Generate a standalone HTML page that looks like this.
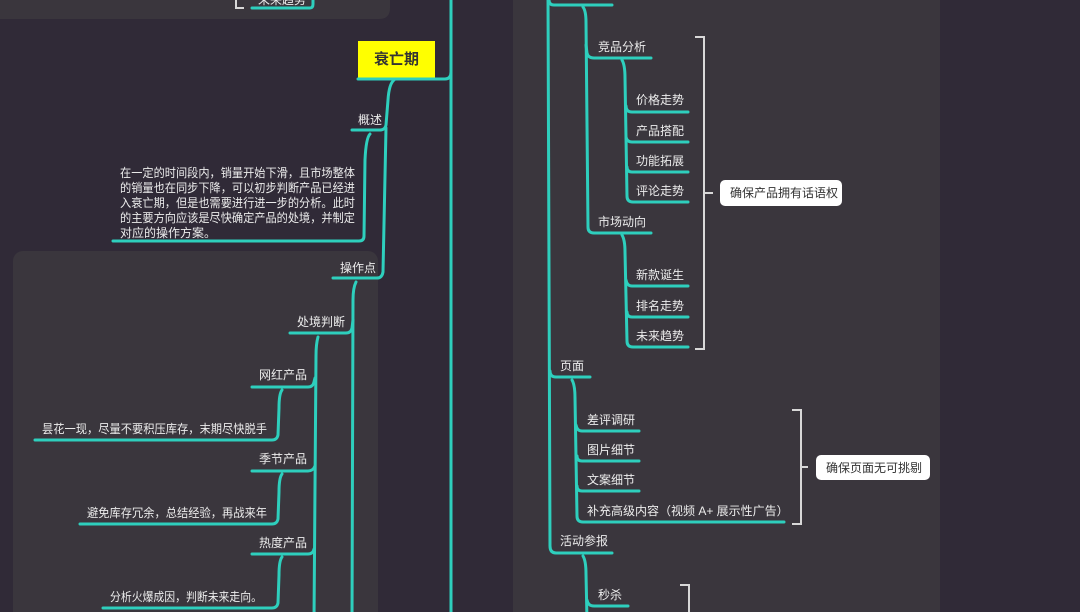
<!DOCTYPE html>
<html><head><meta charset="utf-8"><style>
html,body{margin:0;padding:0;width:1080px;height:612px;overflow:hidden;background:#302a37}
svg{display:block}
text{font-family:"Liberation Sans","Noto Sans CJK SC",sans-serif;font-size:12px;fill:#ececec}
.l{fill:none;stroke:#2ecfbd;stroke-width:3;stroke-linecap:round}
.b{fill:none;stroke:#d8d8d8;stroke-width:2}
</style></head><body>
<svg width="1080" height="612" viewBox="0 0 1080 612">
<rect x="0" y="0" width="1080" height="612" fill="#302a37"/>
<path d="M0 -10 H390 V8 Q390 19 379 19 H0 Z" fill="#3a363d"/>
<rect x="13" y="251" width="365" height="380" rx="10" fill="#3a363d"/>
<rect x="513" y="-10" width="427" height="640" fill="#3a363d"/>
<!-- top-left remnants -->
<path class="b" d="M236 0 V8 H244"/>
<path class="l" d="M252 8 H310 Q313 8 313 4 V0"/>
<text x="258" y="4">未来趋势</text>
<!-- main trunk -->
<path class="l" d="M451 -5 V620"/>
<rect x="358" y="41" width="77" height="37" fill="#ffff00"/>
<text x="396.5" y="64" text-anchor="middle" style="font-size:15px;font-weight:bold;fill:#333">衰亡期</text>
<path class="l" d="M358 79 H445 Q451 79 451 72"/>
<!-- 概述 -->
<path class="l" d="M394 80 Q389 84 388 100 L386 125 Q385 130 380 130 H352"/>
<text x="358" y="124">概述</text>
<path class="l" d="M370 134 Q366 138 365 160 L364 236 Q364 241 359 241 H113"/>
<text x="120" y="177" textLength="235" lengthAdjust="spacingAndGlyphs">在一定的时间段内，销量开始下滑，且市场整体</text>
<text x="120" y="192" textLength="235" lengthAdjust="spacingAndGlyphs">的销量也在同步下降，可以初步判断产品已经进</text>
<text x="120" y="207" textLength="235" lengthAdjust="spacingAndGlyphs">入衰亡期，但是也需要进行进一步的分析。此时</text>
<text x="120" y="222" textLength="235" lengthAdjust="spacingAndGlyphs">的主要方向应该是尽快确定产品的处境，并制定</text>
<text x="120" y="237" textLength="96" lengthAdjust="spacingAndGlyphs">对应的操作方案。</text>
<!-- 操作点 -->
<path class="l" d="M386 128 L383 272 Q382 278 377 278 H333"/>
<text x="340" y="272">操作点</text>
<path class="l" d="M356 282 Q353 288 353 300 L352 620"/>
<path class="l" d="M353 320 L352 328 Q351 333 346 333 H290"/>
<text x="297" y="326">处境判断</text>
<path class="l" d="M318 337 Q316 344 316 356 L314 620"/>
<path class="l" d="M315 378 L314 382 Q313 387 308 387 H252"/>
<text x="259" y="379">网红产品</text>
<path class="l" d="M282 390 Q279 394 279 408 L278 435 Q277 440 272 440 H35"/>
<text x="42" y="433" textLength="225" lengthAdjust="spacingAndGlyphs">昙花一现，尽量不要积压库存，末期尽快脱手</text>
<path class="l" d="M315 466 Q313 471 308 471 H252"/>
<text x="259" y="463">季节产品</text>
<path class="l" d="M282 474 Q279 478 279 492 L278 519 Q277 524 272 524 H80"/>
<text x="87" y="517" textLength="180" lengthAdjust="spacingAndGlyphs">避免库存冗余，总结经验，再战来年</text>
<path class="l" d="M314 549 Q313 554 308 554 H252"/>
<text x="259" y="547">热度产品</text>
<path class="l" d="M282 557 Q279 561 279 575 L278 603 Q277 608 272 608 H103"/>
<text x="110" y="601" textLength="152" lengthAdjust="spacingAndGlyphs">分析火爆成因，判断未来走向。</text>
<!-- right tree -->
<path class="l" d="M548 -5 L550 546 Q550 553 556 553 H612"/>
<path class="l" d="M549 0 Q549 5 554 5 H612"/>
<path class="l" d="M583 7 Q586 11 586 22 L588 227 Q588 233 594 233 H651"/>
<path class="l" d="M586 45 L587 53 Q588 58 594 58 H651"/>
<text x="598" y="51">竞品分析</text>
<path class="l" d="M622 60 Q625 65 625 78 L627 196 Q627 202 633 202 H688"/>
<path class="l" d="M626 106 Q626 112 632 112 H688"/>
<path class="l" d="M626 137 Q627 142 632 142 H688"/>
<path class="l" d="M627 167 Q627 172 632 172 H688"/>
<text x="636" y="104">价格走势</text>
<text x="636" y="135">产品搭配</text>
<text x="636" y="165">功能拓展</text>
<text x="636" y="195">评论走势</text>
<text x="598" y="226">市场动向</text>
<path class="l" d="M622 235 Q625 240 625 252 L627 341 Q627 347 633 347 H688"/>
<path class="l" d="M626 280 Q627 286 632 286 H688"/>
<path class="l" d="M627 312 Q627 317 632 317 H688"/>
<text x="636" y="279">新款诞生</text>
<text x="636" y="310">排名走势</text>
<text x="636" y="340">未来趋势</text>
<path class="b" d="M695 37 H704 V349 H695 M704 193 H713"/>
<rect x="720" y="180" width="122" height="26" rx="5" fill="#fff"/>
<text x="730" y="197" style="fill:#333">确保产品拥有话语权</text>
<path class="l" d="M550 371 Q550 377 556 377 H590"/>
<text x="560" y="370">页面</text>
<path class="l" d="M572 380 Q575 385 575 398 L577 516 Q577 522 583 522 H784"/>
<path class="l" d="M576 425 Q577 431 582 431 H639"/>
<path class="l" d="M577 456 Q577 461 582 461 H639"/>
<path class="l" d="M577 486 Q577 491 582 491 H639"/>
<text x="587" y="424">差评调研</text>
<text x="587" y="454">图片细节</text>
<text x="587" y="484">文案细节</text>
<text x="587" y="515">补充高级内容（视频 A+  展示性广告）</text>
<path class="b" d="M792 410 H801 V524 H792 M801 467 H808"/>
<rect x="816" y="455" width="114" height="25" rx="5" fill="#fff"/>
<text x="826" y="472" style="fill:#333">确保页面无可挑剔</text>
<text x="560" y="545">活动参报</text>
<path class="l" d="M583 556 Q586 561 586 574 L587 620"/>
<path class="l" d="M587 600 Q588 606 594 606 H628"/>
<text x="598" y="599">秒杀</text>
<path class="b" d="M680 585 H689 V620"/>
</svg>
</body></html>
